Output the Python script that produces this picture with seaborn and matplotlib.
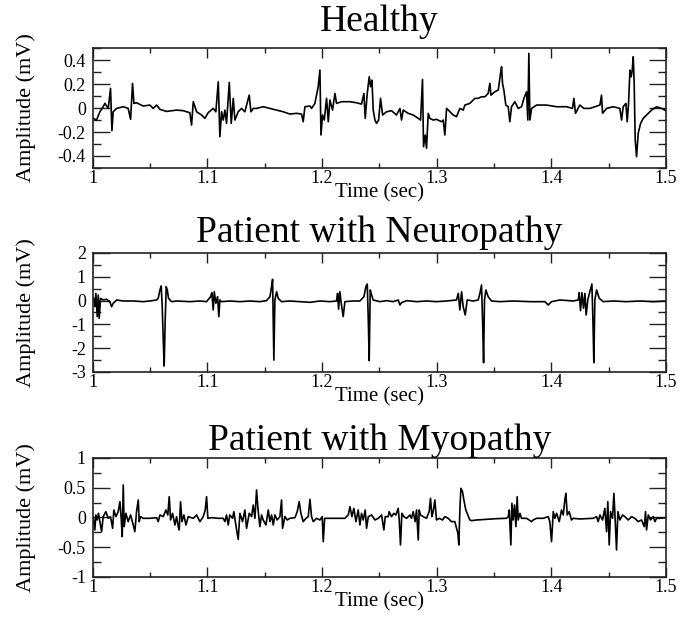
import matplotlib
matplotlib.use("Agg")
import matplotlib.pyplot as plt
from matplotlib.ticker import FixedLocator, MultipleLocator, FormatStrFormatter
import seaborn as sns
import pandas as pd

# --- data (time in sec, amplitude in mV) ---
healthy_t = [
    1.0003, 1.0032, 1.0061, 1.0090, 1.0105, 1.0134, 1.0154, 1.0166, 1.0177, 1.0207,
    1.0265, 1.0308, 1.0329, 1.0346, 1.0358, 1.0381, 1.0439, 1.0497, 1.0526, 1.0556,
    1.0585, 1.0643, 1.0730, 1.0788, 1.0846, 1.0861, 1.0876, 1.0905, 1.0948, 1.0977,
    1.1006, 1.1050, 1.1073, 1.1094, 1.1108, 1.1123, 1.1137, 1.1152, 1.1166, 1.1190,
    1.1207, 1.1225, 1.1239, 1.1268, 1.1297, 1.1326, 1.1364, 1.1379, 1.1399, 1.1428,
    1.1486, 1.1545, 1.1603, 1.1661, 1.1719, 1.1777, 1.1821, 1.1835, 1.1850, 1.1894,
    1.1908, 1.1937, 1.1966, 1.1981, 1.1990, 1.2004, 1.2019, 1.2039, 1.2054, 1.2068,
    1.2091, 1.2112, 1.2126, 1.2170, 1.2243, 1.2301, 1.2344, 1.2365, 1.2376, 1.2394,
    1.2411, 1.2423, 1.2435, 1.2446, 1.2461, 1.2475, 1.2493, 1.2510, 1.2528, 1.2562,
    1.2606, 1.2649, 1.2679, 1.2693, 1.2708, 1.2751, 1.2795, 1.2839, 1.2859, 1.2876,
    1.2885, 1.2900, 1.2911, 1.2926, 1.2940, 1.2969, 1.2998, 1.3042, 1.3057, 1.3071,
    1.3086, 1.3115, 1.3144, 1.3173, 1.3202, 1.3231, 1.3246, 1.3289, 1.3333, 1.3362,
    1.3391, 1.3420, 1.3449, 1.3464, 1.3473, 1.3507, 1.3537, 1.3557, 1.3566, 1.3574,
    1.3586, 1.3603, 1.3624, 1.3638, 1.3653, 1.3682, 1.3711, 1.3740, 1.3761, 1.3784,
    1.3795, 1.3804, 1.3813, 1.3828, 1.3871, 1.3958, 1.4046, 1.4133, 1.4185, 1.4197,
    1.4211, 1.4249, 1.4284, 1.4337, 1.4380, 1.4424, 1.4438, 1.4447, 1.4482, 1.4540,
    1.4598, 1.4613, 1.4627, 1.4651, 1.4662, 1.4674, 1.4686, 1.4697, 1.4706, 1.4715,
    1.4723, 1.4732, 1.4744, 1.4758, 1.4779, 1.4802, 1.4831, 1.4875, 1.4918, 1.4962,
    1.5000,
]
healthy_mv = [
    -0.086, -0.100, -0.031, 0.011, 0.039, -0.003, 0.164, -0.189, -0.031, -0.003,
    0.011, -0.003, -0.094, 0.206, 0.039, 0.044, 0.017, 0.025, -0.003, 0.025,
    -0.011, -0.028, -0.017, -0.022, -0.039, -0.142, 0.053, -0.031, -0.058, -0.086,
    -0.039, -0.003, -0.031, 0.219, -0.239, -0.031, -0.100, -0.017, -0.128, 0.214,
    -0.128, 0.081, -0.100, -0.031, -0.003, -0.031, 0.108, -0.031, -0.003, -0.003,
    0.011, -0.003, -0.017, -0.031, -0.050, -0.044, -0.050, -0.114, 0.011, 0.017,
    -0.003, 0.039, 0.178, 0.317, -0.225, -0.058, -0.100, 0.081, -0.114, 0.067,
    -0.017, 0.122, 0.039, 0.053, 0.053, 0.044, 0.033, 0.122, -0.086, 0.122,
    0.261, 0.178, 0.233, -0.017, -0.100, -0.128, -0.100, 0.081, -0.058, -0.031,
    -0.022, -0.058, -0.003, -0.100, -0.017, -0.044, -0.058, -0.086, -0.100, 0.239,
    -0.322, -0.225, -0.336, -0.044, -0.086, -0.100, -0.094, -0.114, -0.100, -0.225,
    -0.003, -0.031, -0.058, -0.072, -0.003, -0.017, 0.025, 0.039, 0.081, 0.081,
    0.094, 0.094, 0.122, 0.206, 0.108, 0.136, 0.150, 0.289, 0.344, 0.206,
    0.150, 0.025, 0.011, -0.114, 0.011, 0.053, -0.003, 0.011, 0.081, 0.136,
    -0.100, 0.456, -0.100, -0.003, 0.025, 0.025, 0.011, 0.011, -0.003, 0.081,
    -0.044, 0.025, -0.003, -0.003, 0.011, 0.025, 0.108, -0.044, -0.003, 0.011,
    -0.003, -0.100, 0.011, 0.039, -0.114, 0.039, 0.317, 0.261, 0.317, 0.428,
    0.206, -0.267, -0.406, -0.211, -0.128, -0.086, -0.058, -0.017, 0.011, -0.003,
    -0.022,
]

neuro_t = [
    1.0009, 1.0017, 1.0026, 1.0038, 1.0047, 1.0055, 1.0067, 1.0090, 1.0119, 1.0148,
    1.0163, 1.0177, 1.0207, 1.0265, 1.0352, 1.0439, 1.0497, 1.0556, 1.0570, 1.0585,
    1.0596, 1.0605, 1.0614, 1.0622, 1.0631, 1.0640, 1.0649, 1.0660, 1.0686, 1.0730,
    1.0846, 1.0934, 1.0992, 1.1027, 1.1038, 1.1050, 1.1059, 1.1073, 1.1088, 1.1099,
    1.1108, 1.1123, 1.1195, 1.1283, 1.1370, 1.1457, 1.1515, 1.1545, 1.1559, 1.1568,
    1.1574, 1.1579, 1.1588, 1.1603, 1.1617, 1.1646, 1.1719, 1.1806, 1.1894, 1.1981,
    1.2068, 1.2126, 1.2135, 1.2144, 1.2155, 1.2167, 1.2184, 1.2199, 1.2272, 1.2330,
    1.2365, 1.2382, 1.2394, 1.2403, 1.2411, 1.2420, 1.2432, 1.2446, 1.2504, 1.2562,
    1.2620, 1.2664, 1.2679, 1.2693, 1.2737, 1.2824, 1.2911, 1.2998, 1.3086, 1.3173,
    1.3188, 1.3202, 1.3217, 1.3231, 1.3249, 1.3266, 1.3318, 1.3362, 1.3377, 1.3391,
    1.3400, 1.3409, 1.3417, 1.3429, 1.3449, 1.3478, 1.3551, 1.3667, 1.3813, 1.3944,
    1.3973, 1.4002, 1.4075, 1.4191, 1.4235, 1.4243, 1.4255, 1.4267, 1.4281, 1.4293,
    1.4304, 1.4319, 1.4337, 1.4354, 1.4363, 1.4371, 1.4380, 1.4395, 1.4418, 1.4453,
    1.4540, 1.4656, 1.4773, 1.4889, 1.5000,
]
neuro_mv = [
    0.095, -0.255, 0.305, -0.675, 0.235, -0.745, 0.095, 0.025, 0.053, -0.045,
    -0.255, -0.115, 0.025, -0.017, -0.017, -0.045, -0.017, 0.025, 0.095, 0.445,
    0.613, -0.255, -1.660, -2.750, -0.815, 0.585, 0.445, 0.095, -0.045, -0.017,
    -0.045, -0.017, -0.045, 0.165, 0.333, -0.395, 0.375, -0.115, 0.165, -0.675,
    0.025, -0.045, -0.017, -0.045, -0.017, -0.045, -0.003, 0.165, 0.585, 0.894,
    -0.815, -2.500, 0.025, 0.375, 0.095, -0.045, -0.017, -0.045, -0.073, -0.017,
    -0.045, -0.017, 0.305, -0.367, 0.375, -0.115, -0.675, -0.045, -0.017, -0.017,
    0.165, 0.585, 0.697, -0.815, -2.520, 0.445, 0.235, 0.025, -0.045, -0.003,
    -0.045, 0.025, -0.185, -0.087, -0.003, -0.045, -0.017, -0.045, -0.017, 0.025,
    0.305, -0.395, 0.375, -0.255, -0.605, 0.025, -0.017, 0.025, 0.305, 0.655,
    -0.815, -2.610, 0.025, 0.445, 0.165, -0.017, -0.045, -0.017, -0.045, -0.045,
    -0.185, -0.045, 0.025, -0.017, 0.025, 0.333, -0.423, 0.333, -0.325, 0.305,
    -0.605, 0.053, 0.375, 0.697, -0.815, -2.610, 0.025, 0.445, 0.095, -0.045,
    -0.017, -0.045, -0.017, -0.045, -0.017,
]

myo_t = [
    1.0003, 1.0017, 1.0026, 1.0038, 1.0049, 1.0061, 1.0076, 1.0090, 1.0113, 1.0134,
    1.0154, 1.0172, 1.0183, 1.0201, 1.0221, 1.0236, 1.0247, 1.0256, 1.0265, 1.0273,
    1.0288, 1.0308, 1.0329, 1.0352, 1.0366, 1.0381, 1.0396, 1.0404, 1.0416, 1.0439,
    1.0497, 1.0556, 1.0570, 1.0585, 1.0614, 1.0637, 1.0654, 1.0666, 1.0678, 1.0695,
    1.0716, 1.0730, 1.0745, 1.0753, 1.0765, 1.0777, 1.0794, 1.0812, 1.0832, 1.0876,
    1.0905, 1.0934, 1.0963, 1.0980, 1.0992, 1.1003, 1.1035, 1.1094, 1.1137, 1.1152,
    1.1166, 1.1181, 1.1195, 1.1219, 1.1230, 1.1254, 1.1268, 1.1283, 1.1306, 1.1326,
    1.1341, 1.1364, 1.1385, 1.1399, 1.1414, 1.1428, 1.1440, 1.1457, 1.1472, 1.1486,
    1.1510, 1.1530, 1.1545, 1.1559, 1.1574, 1.1588, 1.1608, 1.1632, 1.1646, 1.1655,
    1.1675, 1.1696, 1.1719, 1.1763, 1.1783, 1.1800, 1.1815, 1.1835, 1.1859, 1.1879,
    1.1894, 1.1908, 1.1923, 1.1952, 1.1981, 1.2001, 1.2010, 1.2022, 1.2054, 1.2126,
    1.2199, 1.2228, 1.2243, 1.2260, 1.2277, 1.2295, 1.2315, 1.2330, 1.2344, 1.2359,
    1.2376, 1.2388, 1.2403, 1.2432, 1.2461, 1.2490, 1.2519, 1.2539, 1.2551, 1.2577,
    1.2585, 1.2606, 1.2626, 1.2644, 1.2664, 1.2673, 1.2684, 1.2696, 1.2713, 1.2737,
    1.2766, 1.2780, 1.2795, 1.2812, 1.2824, 1.2839, 1.2847, 1.2859, 1.2882, 1.2911,
    1.2934, 1.2946, 1.2958, 1.2969, 1.2984, 1.2998, 1.3022, 1.3051, 1.3071, 1.3100,
    1.3129, 1.3158, 1.3173, 1.3185, 1.3193, 1.3202, 1.3211, 1.3225, 1.3237, 1.3254,
    1.3272, 1.3289, 1.3304, 1.3348, 1.3435, 1.3522, 1.3609, 1.3624, 1.3633, 1.3641,
    1.3647, 1.3656, 1.3667, 1.3679, 1.3691, 1.3702, 1.3711, 1.3726, 1.3740, 1.3784,
    1.3827, 1.3842, 1.3871, 1.3929, 1.3973, 1.3987, 1.4002, 1.4017, 1.4031, 1.4046,
    1.4069, 1.4089, 1.4104, 1.4118, 1.4127, 1.4139, 1.4156, 1.4176, 1.4191, 1.4249,
    1.4366, 1.4395, 1.4409, 1.4424, 1.4447, 1.4467, 1.4482, 1.4493, 1.4505, 1.4517,
    1.4534, 1.4546, 1.4558, 1.4569, 1.4581, 1.4598, 1.4622, 1.4642, 1.4671, 1.4700,
    1.4729, 1.4758, 1.4787, 1.4811, 1.4822, 1.4831, 1.4846, 1.4866, 1.4889, 1.4904,
    1.4918, 1.4947, 1.5000,
]
myo_mv = [
    0.014, -0.210, 0.042, -0.042, 0.070, -0.070, -0.238, 0.014, 0.098, -0.014,
    0.014, -0.182, 0.126, 0.014, 0.098, 0.266, -0.014, -0.322, 0.546, -0.154,
    0.070, -0.070, 0.042, -0.126, -0.238, 0.098, 0.294, -0.070, 0.014, -0.014,
    -0.014, -0.003, -0.070, 0.042, 0.014, 0.126, 0.042, 0.350, -0.042, 0.070,
    -0.126, 0.014, -0.154, -0.210, 0.266, -0.070, 0.042, -0.126, 0.014, -0.014,
    0.042, -0.070, 0.014, 0.126, 0.350, -0.014, -0.003, -0.014, -0.014, -0.070,
    0.042, -0.126, 0.042, -0.014, 0.098, -0.210, -0.367, 0.070, -0.070, 0.126,
    -0.182, 0.070, 0.014, 0.210, -0.014, 0.462, 0.154, -0.154, 0.042, -0.042,
    -0.126, 0.126, -0.070, 0.042, -0.126, 0.042, -0.042, 0.014, 0.294, -0.182,
    0.014, -0.042, -0.014, -0.003, 0.098, 0.266, 0.070, -0.070, -0.014, 0.014,
    0.305, 0.014, -0.070, -0.014, -0.042, 0.014, -0.406, -0.014, -0.014, -0.014,
    -0.014, 0.042, 0.182, 0.014, 0.154, -0.070, 0.126, -0.126, 0.070, -0.042,
    0.126, -0.182, 0.014, 0.042, -0.042, -0.014, 0.042, -0.210, 0.014, 0.014,
    0.098, 0.014, 0.070, 0.042, 0.154, -0.042, -0.462, 0.070, 0.014, -0.014,
    0.042, -0.014, 0.098, -0.070, 0.126, -0.378, 0.126, 0.042, 0.014, -0.014,
    0.098, 0.322, 0.014, 0.098, 0.294, -0.042, -0.014, -0.042, 0.014, -0.014,
    -0.070, -0.070, -0.182, -0.266, -0.462, 0.126, 0.490, 0.434, 0.294, 0.126,
    0.042, -0.042, -0.053, -0.042, -0.031, -0.020, -0.014, 0.014, 0.126, -0.210,
    -0.462, 0.238, -0.042, 0.210, -0.154, 0.350, -0.042, 0.070, -0.014, -0.014,
    -0.070, -0.042, -0.014, -0.014, 0.014, -0.070, -0.406, 0.098, -0.014, 0.070,
    -0.070, 0.126, 0.042, 0.294, 0.406, 0.042, 0.098, -0.042, -0.014, -0.025,
    -0.014, 0.014, -0.070, 0.042, -0.042, 0.154, -0.238, 0.266, -0.462, 0.098,
    -0.014, 0.406, -0.070, -0.546, 0.098, -0.042, 0.042, 0.014, -0.042, 0.014,
    -0.014, -0.070, -0.042, -0.154, 0.098, -0.210, 0.042, -0.042, 0.014, -0.070,
    -0.014, -0.014, -0.003,
]

titles = ["Healthy", "Patient with Neuropathy", "Patient with Myopathy"]
x_ticks = [1.0, 1.1, 1.2, 1.3, 1.4, 1.5]
healthy_yticks = [-0.4, -0.2, 0, 0.2, 0.4]
neuro_yticks = [-3, -2, -1, 0, 1, 2]
myo_yticks = [-1, -0.5, 0, 0.5, 1]

panels = [
    (healthy_t, healthy_mv, (-0.5, 0.5), healthy_yticks, 0.1),
    (neuro_t, neuro_mv, (-3, 2), neuro_yticks, 0.5),
    (myo_t, myo_mv, (-1, 1), myo_yticks, 0.25),
]

sns.set_style("ticks")
plt.rcParams["font.family"] = ["Liberation Serif", "DejaVu Serif"]
plt.rcParams["axes.unicode_minus"] = False
plt.rcParams["text.color"] = "black"
plt.rcParams["axes.labelcolor"] = "black"

fig = plt.figure(figsize=(6.83, 6.21), dpi=100)
axes_pos = [
    [0.136, 0.7295, 0.839, 0.193],
    [0.136, 0.4010, 0.839, 0.1916],
    [0.136, 0.0709, 0.839, 0.1916],
]
title_pads = [12, 8, 5]

for (t, mv, ylim, yticks, yminor), title, pos, tpad in zip(panels, titles, axes_pos, title_pads):
    ax = fig.add_axes(pos)
    df = pd.DataFrame({"Time": t, "Amplitude": mv})
    sns.lineplot(data=df, x="Time", y="Amplitude", ax=ax, color="black",
                 linewidth=1.2, estimator=None, sort=False)
    ax.set_xlim(1.0, 1.5)
    ax.set_ylim(*ylim)
    ax.xaxis.set_major_locator(FixedLocator(x_ticks))
    ax.xaxis.set_minor_locator(MultipleLocator(0.05))
    ax.yaxis.set_major_locator(FixedLocator(yticks))
    ax.yaxis.set_minor_locator(MultipleLocator(yminor))
    ax.xaxis.set_major_formatter(FormatStrFormatter("%g"))
    ax.yaxis.set_major_formatter(FormatStrFormatter("%g"))
    ax.tick_params(which="both", direction="in", top=True, right=True,
                   color="#222222", labelcolor="black", width=1.0, labelsize=13)
    ax.tick_params(axis="x", which="major", length=7, pad=1.5)
    ax.tick_params(axis="x", which="minor", length=3.5)
    ax.tick_params(axis="y", which="major", length=12, pad=5)
    ax.tick_params(axis="y", which="minor", length=6)
    for side in ax.spines.values():
        side.set_linewidth(1.2)
        side.set_color("#222222")
    ax.set_title(title, fontsize=27, pad=tpad, color="black")
    ax.set_xlabel("Time (sec)", fontsize=15, labelpad=-3)
    ax.set_ylabel("Amplitude (mV)", fontsize=16)
    ax.yaxis.set_label_coords(-0.1, 0.5)

fig.savefig("out.png", dpi=100, facecolor="white")
